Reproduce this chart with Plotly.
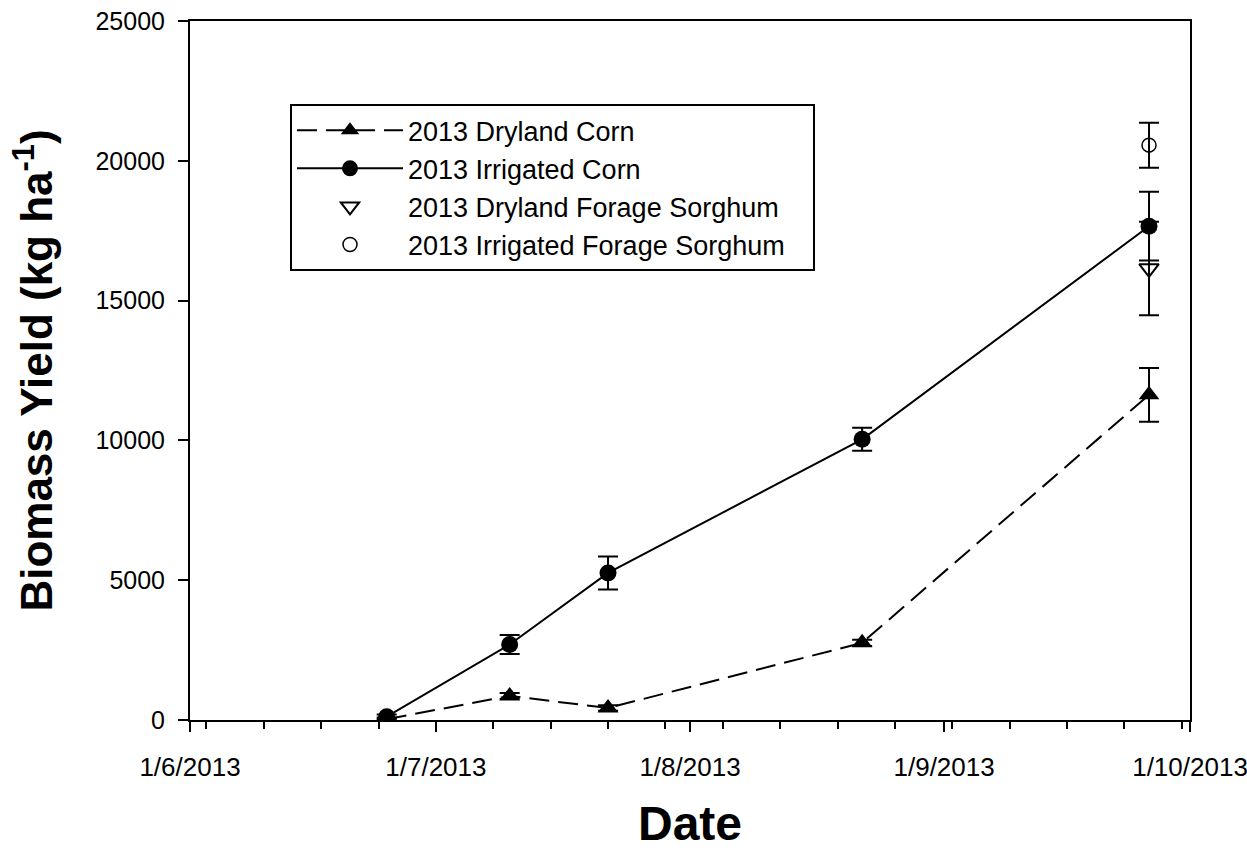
import plotly.graph_objects as go

# Sampling dates (2013 season)
dates_corn = ["2013-06-25", "2013-07-10", "2013-07-22", "2013-08-22", "2013-09-26"]
dates_sorghum = ["2013-09-26"]

# Biomass yield (kg/ha) and standard errors
dryland_corn = [30, 860, 430, 2760, 11630]
dryland_corn_err = [60, 110, 100, 110, 960]
irrigated_corn = [120, 2700, 5260, 10040, 17660]
irrigated_corn_err = [80, 340, 590, 410, 1230]
dryland_sorghum = [16150]
dryland_sorghum_err = [1670]
irrigated_sorghum = [20560]
irrigated_sorghum_err = [805]

# Axis ticks
x_tickvals = ["2013-06-01", "2013-07-01", "2013-08-01", "2013-09-01", "2013-10-01"]
x_ticktext = ["1/6/2013", "1/7/2013", "1/8/2013", "1/9/2013", "1/10/2013"]
y_tickvals = [0, 5000, 10000, 15000, 20000, 25000]
y_ticktext = ["0", "5000", "10000", "15000", "20000", "25000"]

FONT = "Liberation Sans, Arial, sans-serif"
BLACK = "black"

def err(vals):
    return dict(type="data", array=vals, visible=True, color=BLACK,
                thickness=2, width=10)

fig = go.Figure()

fig.add_trace(go.Scatter(
    x=dates_corn, y=dryland_corn, name="2013 Dryland Corn",
    mode="lines+markers", legendgroup="a",
    line=dict(color=BLACK, width=2, dash="20px,9px"),
    marker=dict(symbol="triangle-up", size=18, color=BLACK),
    error_y=err(dryland_corn_err),
))
fig.add_trace(go.Scatter(
    x=dates_corn, y=irrigated_corn, name="2013 Irrigated Corn",
    mode="lines+markers", legendgroup="b",
    line=dict(color=BLACK, width=2),
    marker=dict(symbol="circle", size=17, color=BLACK),
    error_y=err(irrigated_corn_err),
))
fig.add_trace(go.Scatter(
    x=dates_sorghum, y=dryland_sorghum, name="2013 Dryland Forage Sorghum",
    mode="markers", legendgroup="c",
    marker=dict(symbol="triangle-down-open", size=17, color=BLACK,
                line=dict(width=2, color=BLACK)),
    error_y=err(dryland_sorghum_err),
))
fig.add_trace(go.Scatter(
    x=dates_sorghum, y=irrigated_sorghum,
    name="2013 Irrigated Forage Sorghum\u00a0\u00a0\u00a0",
    mode="markers", legendgroup="d",
    marker=dict(symbol="circle-open", size=14, color=BLACK,
                line=dict(width=1.5, color=BLACK)),
    error_y=err(irrigated_sorghum_err),
))

fig.update_layout(
    width=1247, height=850,
    margin=dict(l=190, r=57, t=21, b=130),
    paper_bgcolor="white", plot_bgcolor="white",
    font=dict(family=FONT, size=25, color=BLACK),
    showlegend=True,
    legend=dict(
        x=0.10, y=0.881, xanchor="left", yanchor="top",
        bordercolor=BLACK, borderwidth=2, bgcolor="white",
        font=dict(family=FONT, size=27, color=BLACK),
        itemwidth=106, tracegroupgap=0,
    ),
    xaxis=dict(
        type="date", range=["2013-06-01", "2013-10-01"],
        automargin=False,
        tickmode="array", tickvals=x_tickvals, ticktext=x_ticktext,
        tickfont=dict(size=26), ticklabeloverflow="allow",
        ticks="outside", ticklen=10, tickwidth=2, tickcolor=BLACK,
        ticklabelstandoff=13,
        showline=True, linecolor=BLACK, linewidth=2, mirror=True,
        showgrid=False, zeroline=False,
        minor=dict(dtick=7 * 86400000, tick0="2013-06-03",
                   ticks="outside", ticklen=7, tickwidth=2,
                   tickcolor=BLACK, showgrid=False),
        title=dict(text="<b>Date</b>", font=dict(family=FONT, size=48),
                   standoff=40),
    ),
    yaxis=dict(
        range=[0, 25000],
        automargin=False,
        tickmode="array", tickvals=y_tickvals, ticktext=y_ticktext,
        ticks="outside", ticklen=10, tickwidth=2, tickcolor=BLACK,
        ticklabelstandoff=8,
        showline=True, linecolor=BLACK, linewidth=2, mirror=True,
        showgrid=False, zeroline=False,
        title=dict(text="<b>Biomass Yield (kg ha<sup>-1</sup>)</b>",
                   font=dict(family=FONT, size=44), standoff=29),
    ),
)

fig.write_html("out.html")
